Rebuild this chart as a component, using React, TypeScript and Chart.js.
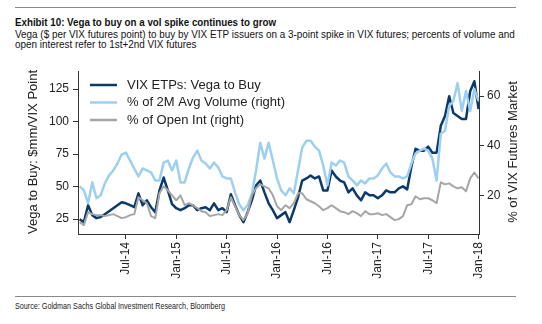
import React, { useEffect, useRef } from "react";
import { Chart, registerables } from "chart.js";

Chart.register(...registerables);

// months since Jan-2014 (semi-monthly observations)
const months = [
  0.5, 1, 1.5, 2, 2.5, 3, 3.5, 4, 4.5, 5, 5.5, 6, 6.5, 7, 7.5, 8, 8.5, 9, 9.5, 10, 10.5, 11, 11.5, 12,
  12.5, 13, 13.5, 14, 14.5, 15, 15.5, 16, 16.5, 17, 17.5, 18, 18.5, 19, 19.5, 20, 20.5, 21, 21.5, 22, 22.5, 23, 23.5, 24,
  24.5, 25, 25.5, 26, 26.5, 27, 27.5, 28, 28.5, 29, 29.5, 30, 30.5, 31, 31.5, 32, 32.5, 33, 33.5, 34, 34.5, 35, 35.5, 36,
  36.5, 37, 37.5, 38, 38.5, 39, 39.5, 40, 40.5, 41, 41.5, 42, 42.5, 43, 43.5, 44, 44.5, 45, 45.5, 46, 46.5, 47, 47.5, 48,
];

// VIX ETPs: Vega to Buy ($mm / VIX point) - left axis
const vegaToBuy = [
  25.0, 22.7, 35.7, 28.1, 25.8, 26.6, 28.8, 31.1, 33.4, 35.7, 38.0, 37.2, 35.7, 34.2, 44.8, 35.7, 39.5, 34.2, 30.4, 47.1, 57.0, 47.1, 36.5, 33.4,
  31.9, 33.4, 35.7, 35.7, 31.9, 33.4, 34.2, 31.9, 37.2, 31.9, 33.4, 30.4, 44.1, 35.7, 28.1, 22.7, 30.4, 39.5, 50.9, 54.7, 45.6, 37.2, 31.9, 25.8,
  28.1, 30.4, 22.7, 31.9, 41.8, 54.7, 56.3, 58.6, 56.3, 57.8, 47.1, 47.1, 62.4, 57.8, 54.7, 53.2, 45.6, 48.7, 43.3, 39.5, 45.6, 43.3, 43.3, 41.0,
  43.3, 47.1, 45.6, 45.6, 48.7, 50.2, 47.9, 65.4, 79.1, 77.6, 77.6, 80.7, 76.1, 76.1, 96.7, 104.3, 119.5, 106.6, 104.3, 102.0, 102.0, 123.3, 131.0, 109.6,
];

// % of 2M Avg Volume (right axis)
const pctAvgVolume = [
  23.6, 22.0, 16.8, 25.2, 18.8, 20.0, 24.8, 28.0, 30.0, 32.8, 36.4, 37.2, 34.0, 30.8, 27.6, 30.8, 30.0, 29.2, 26.0, 26.0, 33.2, 34.0, 30.0, 34.0,
  25.2, 25.2, 30.8, 35.2, 38.0, 34.0, 32.8, 30.8, 33.2, 31.2, 27.6, 26.8, 26.8, 21.2, 16.4, 14.0, 16.0, 20.4, 30.0, 41.2, 34.8, 41.2, 34.0, 26.8,
  22.0, 20.0, 22.8, 20.8, 30.0, 39.2, 42.0, 42.0, 39.6, 38.0, 32.0, 24.0, 33.2, 32.0, 34.0, 33.2, 27.6, 26.0, 24.0, 26.0, 24.8, 26.8, 26.8, 28.0,
  30.8, 32.8, 29.2, 27.6, 27.6, 26.8, 27.6, 32.8, 36.8, 38.0, 38.8, 38.0, 34.8, 26.0, 44.8, 46.0, 56.0, 58.0, 65.2, 54.0, 62.0, 54.0, 62.8, 58.0,
];

// % of Open Int (right axis)
const pctOpenInt = [
  9.2, 8.0, 13.2, 12.4, 12.0, 12.0, 11.6, 12.0, 12.4, 11.6, 10.8, 11.2, 12.0, 12.4, 19.2, 18.0, 16.8, 11.6, 10.8, 20.8, 23.6, 22.0, 20.0, 18.0,
  20.0, 16.0, 16.8, 16.0, 14.8, 13.6, 13.2, 11.6, 12.0, 12.4, 12.0, 14.0, 19.2, 15.6, 12.0, 10.0, 12.8, 20.0, 22.8, 24.4, 23.6, 22.8, 20.0, 15.6,
  14.0, 16.0, 14.8, 16.8, 20.8, 20.8, 18.4, 17.6, 16.8, 15.6, 14.0, 14.8, 16.0, 14.8, 13.6, 13.2, 12.4, 13.6, 12.8, 11.6, 13.6, 12.4, 12.4, 12.8,
  12.0, 12.4, 11.2, 10.0, 10.4, 11.6, 16.0, 16.4, 19.6, 18.4, 18.8, 18.8, 18.0, 16.8, 25.2, 24.4, 24.8, 23.6, 22.8, 23.2, 21.6, 26.8, 29.2, 26.8,
];

const xTickMonths = [6, 12, 18, 24, 30, 36, 42, 48];
const xTickLabels = ["Jul-14", "Jan-15", "Jul-15", "Jan-16", "Jul-16", "Jan-17", "Jul-17", "Jan-18"];
const leftTicks = [25, 50, 75, 100, 125];
const rightTicks = [20, 40, 60];
const seriesNames = ["VIX ETPs: Vega to Buy", "% of 2M Avg Volume (right)", "% of Open Int (right)"];
const seriesColors = ["#0b3a68", "#9dd0f0", "#a6a6a6"];

const TITLE = "Exhibit 10: Vega to buy on a vol spike continues to grow";
const SUB1 = "Vega ($ per VIX futures point) to buy by VIX ETP issuers on a 3-point spike in VIX futures; percents of volume and";
const SUB2 = "open interest refer to 1st+2nd VIX futures";
const SOURCE = "Source: Goldman Sachs Global Investment Research, Bloomberg";

const FONT = "'Liberation Sans', Arial, Helvetica, sans-serif";
const TEXT = "#222222";
const AXIS = "#333333";

function fitScale(text: string, font: string, target: number): number {
  try {
    const c = document.createElement("canvas").getContext("2d");
    if (!c) return 0.82;
    c.font = font;
    const w = c.measureText(text).width;
    return w > 0 ? target / w : 0.82;
  } catch (e) {
    return 0.82;
  }
}

const overlayPlugin = {
  id: "overlay",
  afterDraw(chart: any) {
    const ctx = chart.ctx as CanvasRenderingContext2D;
    ctx.save();
    const rows = [25, 42.5, 60];
    ctx.font = `13px ${FONT}`;
    ctx.textBaseline = "middle";
    ctx.textAlign = "left";
    seriesNames.forEach((name, i) => {
      ctx.strokeStyle = seriesColors[i];
      ctx.lineWidth = 2.5;
      ctx.beginPath();
      ctx.moveTo(90, rows[i]);
      ctx.lineTo(117, rows[i]);
      ctx.stroke();
      ctx.fillStyle = TEXT;
      ctx.fillText(name, 127, rows[i]);
    });
    ctx.textAlign = "center";
    ctx.fillStyle = TEXT;
    ctx.save();
    ctx.translate(33, 92);
    ctx.rotate(-Math.PI / 2);
    ctx.fillText("Vega to Buy: $mm/VIX Point", 0, 0);
    ctx.restore();
    ctx.save();
    ctx.translate(513, 92);
    ctx.rotate(-Math.PI / 2);
    ctx.fillText("% of VIX Futures Market", 0, 0);
    ctx.restore();
    ctx.restore();
  },
};

export default function App() {
  const ref = useRef<HTMLCanvasElement>(null);

  const titleFont = `bold 11px ${FONT}`;
  const subFont = `10px ${FONT}`;
  const srcFont = `8.6px ${FONT}`;
  const titleScale = fitScale(TITLE, titleFont, 261);
  const subScale = fitScale(SUB1, subFont, 500);
  const srcScale = fitScale(SOURCE, srcFont, 210);

  useEffect(() => {
    if (!ref.current) return;
    const mk = (vals: number[]) => months.map((m, i) => ({ x: m, y: vals[i] }));
    const tickFont = { family: FONT, size: 12 };
    const chart = new Chart(ref.current, {
      type: "line",
      data: {
        datasets: [
          { label: seriesNames[0], data: mk(vegaToBuy), yAxisID: "y", borderColor: seriesColors[0], borderWidth: 2.5, order: 3 },
          { label: seriesNames[1], data: mk(pctAvgVolume), yAxisID: "y1", borderColor: seriesColors[1], borderWidth: 2.5, order: 2 },
          { label: seriesNames[2], data: mk(pctOpenInt), yAxisID: "y1", borderColor: seriesColors[2], borderWidth: 2, order: 1 },
        ],
      },
      options: {
        animation: false,
        responsive: false,
        maintainAspectRatio: false,
        layout: { padding: { top: 10, left: 0, right: 0, bottom: 0 } },
        plugins: { legend: { display: false }, tooltip: { enabled: false }, title: { display: false } },
        elements: {
          point: { radius: 0 },
          line: { tension: 0, borderJoinStyle: "round", fill: false },
        },
        scales: {
          x: {
            type: "linear",
            min: 0.3,
            max: 48.05,
            afterBuildTicks: (s: any) => {
              s.ticks = xTickMonths.map((v) => ({ value: v }));
            },
            afterFit: (s: any) => {
              s.height = 60;
            },
            ticks: {
              autoSkip: false,
              minRotation: 90,
              maxRotation: 90,
              padding: 3,
              color: TEXT,
              font: tickFont,
              callback: (_v: any, i: number) => xTickLabels[i],
            },
            grid: { drawOnChartArea: false, tickLength: 5, color: AXIS },
            border: { color: AXIS, width: 1 },
          },
          y: {
            type: "linear",
            position: "left",
            min: 13.6,
            max: 138.7,
            afterBuildTicks: (s: any) => {
              s.ticks = leftTicks.map((v) => ({ value: v }));
            },
            afterFit: (s: any) => {
              s.width = 78;
            },
            ticks: { padding: 4, color: TEXT, font: tickFont },
            grid: { drawOnChartArea: false, tickLength: 5, color: AXIS },
            border: { color: AXIS, width: 1 },
          },
          y1: {
            type: "linear",
            position: "right",
            min: 4.4,
            max: 70,
            afterBuildTicks: (s: any) => {
              s.ticks = rightTicks.map((v) => ({ value: v }));
            },
            afterFit: (s: any) => {
              s.width = 63;
            },
            ticks: { padding: 3, color: TEXT, font: tickFont },
            grid: { drawOnChartArea: false, tickLength: 5, color: AXIS },
            border: { color: AXIS, width: 1 },
          },
        },
      },
      plugins: [overlayPlugin],
    } as any);
    return () => chart.destroy();
  }, []);

  const textBase: React.CSSProperties = {
    position: "absolute",
    left: 15,
    whiteSpace: "nowrap",
    transformOrigin: "left top",
    fontFamily: FONT,
  };

  return (
    <div style={{ position: "absolute", left: 0, top: 0, width: 542, height: 324, background: "#fff", overflow: "hidden" }}>
      <div style={{ position: "absolute", left: 15, top: 7, width: 501, height: 1, background: "#8a8a8a" }} />
      <div
        style={{
          ...textBase,
          top: 17,
          fontWeight: "bold",
          fontSize: 11,
          lineHeight: "11px",
          color: "#111",
          transform: `scaleX(${titleScale})`,
        }}
      >
        {TITLE}
      </div>
      <div
        style={{
          ...textBase,
          top: 30,
          fontSize: 10,
          lineHeight: "10px",
          color: "#111",
          transform: `scaleX(${subScale})`,
        }}
      >
        {SUB1}
        <br />
        {SUB2}
      </div>
      <canvas ref={ref} width={542} height={234} style={{ position: "absolute", left: 0, top: 60, width: 542, height: 234 }} />
      <div style={{ position: "absolute", left: 15, top: 296, width: 501, height: 1, background: "#8a8a8a" }} />
      <div
        style={{
          ...textBase,
          top: 302,
          fontSize: 8.6,
          lineHeight: "9px",
          color: "#222",
          transform: `scaleX(${srcScale})`,
        }}
      >
        {SOURCE}
      </div>
    </div>
  );
}
